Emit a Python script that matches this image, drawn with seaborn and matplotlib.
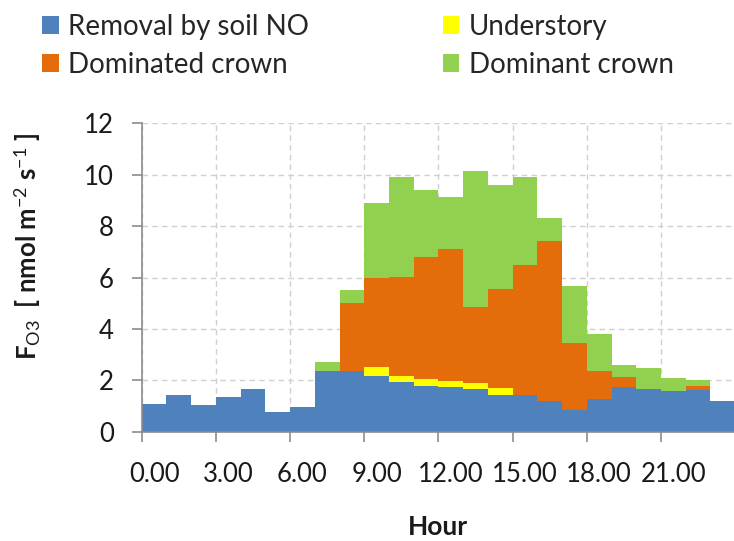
import numpy as np
import pandas as pd
import matplotlib
matplotlib.use("Agg")
import matplotlib.pyplot as plt
from matplotlib.patches import Patch
from matplotlib.ticker import FixedLocator, NullFormatter, FixedFormatter
import seaborn as sns

hours = list(range(24))
soil_no = [1.06, 1.43, 1.04, 1.36, 1.67, 0.78, 0.95, 2.36, 2.36, 2.15, 1.92, 1.79,
           1.75, 1.65, 1.43, 1.43, 1.18, 0.86, 1.27, 1.72, 1.67, 1.59, 1.63, 1.18]
understory = [0, 0, 0, 0, 0, 0, 0, 0, 0, 0.37, 0.23, 0.26,
              0.23, 0.25, 0.28, 0, 0, 0, 0, 0, 0, 0, 0, 0]
dominated = [0, 0, 0, 0, 0, 0, 0, 0, 2.65, 3.46, 3.87, 4.75,
             5.14, 2.94, 3.86, 5.07, 6.23, 2.60, 1.09, 0.40, 0, 0, 0.14, 0]
dominant = [0, 0, 0, 0, 0, 0, 0, 0.36, 0.52, 2.91, 3.88, 2.59,
            2.03, 5.32, 4.02, 3.40, 0.92, 2.19, 1.46, 0.48, 0.82, 0.50, 0.26, 0]
tick_labels = ["0.00", "3.00", "6.00", "9.00", "12.00", "15.00", "18.00", "21.00"]
series_names = ["Removal by soil NO", "Understory", "Dominated crown", "Dominant crown"]
colors = ["#4F81BD", "#FFFF00", "#E46C0A", "#92D050"]

sns.set_theme(style="white")
plt.rcParams["font.family"] = ["Lato", "DejaVu Sans"]
plt.rcParams["mathtext.fontset"] = "custom"
plt.rcParams["mathtext.rm"] = "Lato"
plt.rcParams["mathtext.bf"] = "Lato:bold"
plt.rcParams["mathtext.it"] = "Lato:italic"

df = pd.DataFrame({"hour": hours, "soil": soil_no, "under": understory,
                   "dominated": dominated, "dominant": dominant})
df["c1"] = df["soil"]
df["c2"] = df["c1"] + df["under"]
df["c3"] = df["c2"] + df["dominated"]
df["c4"] = df["c3"] + df["dominant"]

fig = plt.figure(figsize=(7.34, 5.41), dpi=100)
ax = fig.add_axes([141.7 / 734, (541 - 431.7) / 541, 1 - 141.7 / 734, (431.7 - 123.3) / 541])

for col, colr in zip(["c4", "c3", "c2", "c1"], colors[::-1]):
    sns.barplot(data=df, x="hour", y=col, order=hours, color=colr, width=1.0,
                saturation=1, linewidth=0, edgecolor="none", ax=ax, zorder=2)

ax.set_xlim(-0.5, -0.5 + (734 - 141.7) / 24.73)
ax.set_ylim(0, 12)
ax.set_yticks(np.arange(0, 13, 2))
ax.set_yticklabels([str(v) for v in range(0, 13, 2)])

major = np.arange(-0.5, 24, 3)
ax.xaxis.set_major_locator(FixedLocator(major))
ax.xaxis.set_major_formatter(NullFormatter())
ax.xaxis.set_minor_locator(FixedLocator(np.arange(0, 22, 3)))
ax.xaxis.set_minor_formatter(FixedFormatter(tick_labels))

ax.grid(True, which="major", axis="both", color="#D0D0D0", linestyle=(0, (4, 3)), linewidth=1)
ax.set_axisbelow(True)

for s in ["top", "right"]:
    ax.spines[s].set_visible(False)
for s in ["left", "bottom"]:
    ax.spines[s].set_color("#8C8C8C")
    ax.spines[s].set_linewidth(1.2)
    ax.spines[s].set_zorder(3)

ax.tick_params(axis="y", which="major", direction="out", length=7, width=1.2, color="#8C8C8C",
               labelsize=18.5, pad=13, left=True, labelcolor="#1a1a1a")
ax.tick_params(axis="x", which="major", direction="out", length=7, width=1.2, color="#8C8C8C",
               bottom=True)
ax.tick_params(axis="x", which="minor", length=0, labelsize=18.5, pad=22, labelcolor="#1a1a1a")

ax.set_xlabel("")
fig.text(438 / 734, 1 - 527 / 541, "Hour", ha="center", va="center", fontsize=19,
         fontweight="bold", color="#1a1a1a")
ax.set_ylabel("")
fig.text(27 / 734, 1 - 246 / 541,
         r"$\mathbf{F}_{\mathrm{O3}}$  [ nmol m$^{\mathrm{-2}}$ s$^{\mathrm{-1}}$ ]",
         rotation=90, ha="center", va="center", fontsize=18.5, fontweight="bold",
         color="#1a1a1a")

handles = [Patch(facecolor=c, edgecolor="none") for c in colors]
order = [0, 2, 1, 3]
fig.legend([handles[i] for i in order], [series_names[i] for i in order],
           loc="upper left", bbox_to_anchor=(42 / 734, 1 - 14 / 541), ncol=2, frameon=False,
           fontsize=20, handlelength=0.6, handleheight=0.6, handletextpad=0.35,
           columnspacing=4.8, labelspacing=0.42, borderpad=0, borderaxespad=0)

fig.savefig("out.png", dpi=100)
